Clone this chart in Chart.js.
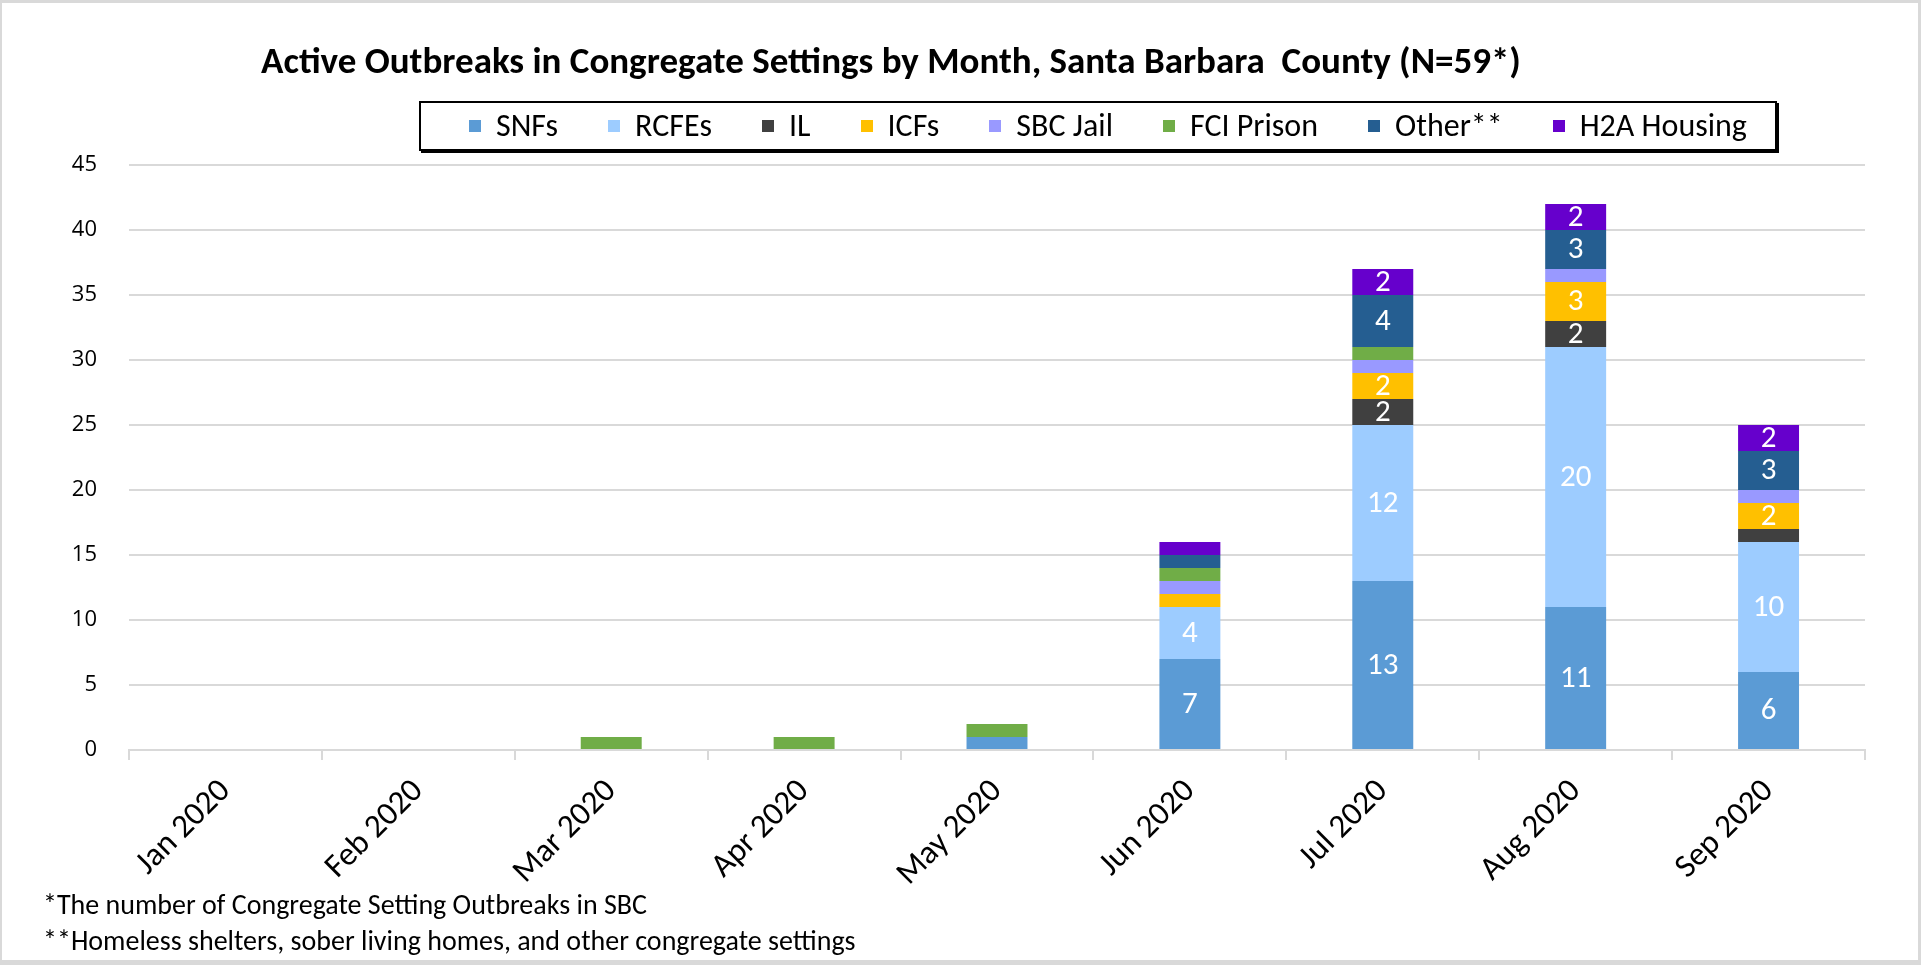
<!DOCTYPE html>
<html>
<head>
<meta charset="utf-8">
<script src="https://cdn.jsdelivr.net/npm/chart.js@4.4.1/dist/chart.umd.min.js"></script>
<style>
  html, body { margin: 0; padding: 0; background: #d9d9d9; width: 1921px; height: 965px; overflow: hidden; }
  #frame { position: absolute; left: 2px; top: 3px; width: 1916px; height: 957px; background: #fff; }
  #chart { position: absolute; left: 0; top: 0; }
  .txt { position: absolute; font-family: "Carlito", "Liberation Sans Narrow", "Open Sans", sans-serif; color: #000; white-space: nowrap; line-height: 1.2; }
  #title { left: 261px; top: 39px; font-size: 37px; font-weight: bold; }
  #legend { position: absolute; left: 419px; top: 101px; width: 1358px; height: 50px; border: 2px solid #000;
            box-shadow: 2px 2px 0 #000; background: #fff; display: flex; flex-wrap: nowrap; align-items: center;
            padding-left: 48px; box-sizing: border-box; overflow: hidden; }
  .item { display: flex; align-items: center; flex-shrink: 0; white-space: nowrap; margin-right: 50px;
          font-family: "Carlito", "Liberation Sans Narrow", "Open Sans", sans-serif; font-size: 32px; line-height: 1; }
  .swatch { width: 12px; height: 12px; margin-right: 15px; flex-shrink: 0; }
  #note1 { left: 43px; top: 888px; font-size: 28px; }
  #note2 { left: 43px; top: 924px; font-size: 28px; }
</style>
</head>
<body>
<div id="frame"></div>
<canvas id="chart" width="1921" height="965"></canvas>
<div class="txt" id="title">Active Outbreaks in Congregate Settings by Month, Santa Barbara&nbsp; County (N=59*)</div>
<div id="legend"></div>
<div class="txt" id="note1">*The number of Congregate Setting Outbreaks in SBC</div>
<div class="txt" id="note2">**Homeless shelters, sober living homes, and other congregate settings</div>
<script>
// Active outbreaks by month, stacked by setting type

const months = ['Jan 2020', 'Feb 2020', 'Mar 2020', 'Apr 2020', 'May 2020', 'Jun 2020', 'Jul 2020', 'Aug 2020', 'Sep 2020'];

const snfs      = [0, 0, 0, 0, 1, 7, 13, 11, 6];
const rcfes     = [0, 0, 0, 0, 0, 4, 12, 20, 10];
const il        = [0, 0, 0, 0, 0, 0, 2, 2, 1];
const icfs      = [0, 0, 0, 0, 0, 1, 2, 3, 2];
const sbcJail   = [0, 0, 0, 0, 0, 1, 1, 1, 1];
const fciPrison = [0, 0, 1, 1, 1, 1, 1, 0, 0];
const other     = [0, 0, 0, 0, 0, 1, 4, 3, 3];
const h2a       = [0, 0, 0, 0, 0, 1, 2, 2, 2];

const seriesNames  = ['SNFs', 'RCFEs', 'IL', 'ICFs', 'SBC Jail', 'FCI Prison', 'Other**', 'H2A Housing'];
const seriesValues = [snfs, rcfes, il, icfs, sbcJail, fciPrison, other, h2a];
const seriesColors = ['#5B9BD5', '#9DCCFF', '#404040', '#FFC000', '#9999FF', '#70AD47', '#255E91', '#6600CC'];

const yMax = 45;
const yStep = 5;

const FONT = '"Carlito", "Liberation Sans Narrow", "Open Sans", sans-serif';

// white value labels inside segments (Excel hides the 1s here)
const segmentLabels = {
    id: 'segmentLabels',
    afterDatasetsDraw(chart) {
        const ctx = chart.ctx;
        ctx.save();
        ctx.font = '31px ' + FONT;
        ctx.fillStyle = '#fff';
        ctx.textAlign = 'center';
        ctx.textBaseline = 'middle';
        chart.data.datasets.forEach((ds, i) => {
            chart.getDatasetMeta(i).data.forEach((bar, j) => {
                const v = ds.data[j];
                if (v < 2) return;
                ctx.fillText(String(v), bar.x, (bar.y + bar.base) / 2 + 1);
            });
        });
        ctx.restore();
    }
};

const datasets = seriesNames.map((name, i) => ({
    label: name,
    data: seriesValues[i],
    backgroundColor: seriesColors[i],
    borderWidth: 0,
    categoryPercentage: 1.0,
    barPercentage: 0.316
}));

new Chart(document.getElementById('chart'), {
    type: 'bar',
    data: { labels: months, datasets: datasets },
    options: {
        responsive: false,
        animation: false,
        layout: { padding: { left: 0, top: 165, right: 56, bottom: 0 } },
        plugins: {
            legend: { display: false },
            title: { display: false },
            tooltip: { enabled: false }
        },
        scales: {
            x: {
                stacked: true,
                grid: { offset: true, drawOnChartArea: false, color: '#d9d9d9', lineWidth: 2, tickLength: 10 },
                border: { color: '#d9d9d9', width: 2 },
                ticks: { color: '#000', font: { family: FONT, size: 33 }, minRotation: 45, maxRotation: 45, padding: 12 },
                afterFit(scale) { scale.height = 215; }
            },
            y: {
                stacked: true,
                min: 0,
                max: yMax,
                grid: { color: '#d9d9d9', lineWidth: 2, drawTicks: false },
                border: { display: false },
                ticks: { stepSize: yStep, color: '#000', font: { family: '"Open Sans", sans-serif', size: 22 }, padding: 32 },
                afterFit(scale) { scale.width = 129; }
            }
        }
    },
    plugins: [segmentLabels]
});

// legend box built from the same series lists
const legend = document.getElementById('legend');
legend.innerHTML = seriesNames.map((name, i) =>
    `<div class="item"><span class="swatch" style="background:${seriesColors[i]}"></span>${name}</div>`
).join('');
</script>
</body>
</html>
